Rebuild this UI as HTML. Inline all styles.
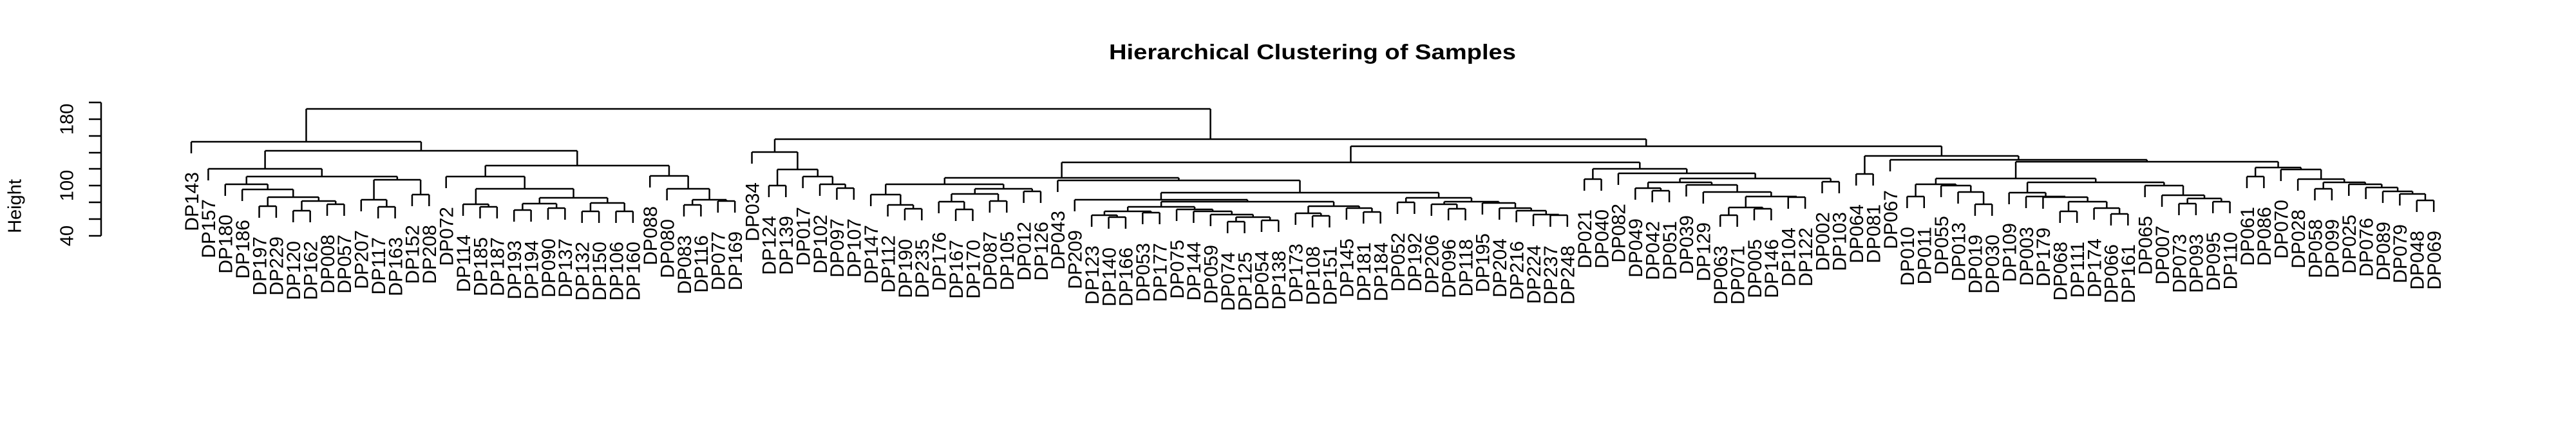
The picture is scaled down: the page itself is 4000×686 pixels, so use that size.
<!DOCTYPE html>
<html><head><meta charset="utf-8">
<style>
html,body{margin:0;padding:0;background:#fff;}
svg{display:block;}
text{font-family:"Liberation Sans",Arial,sans-serif;fill:#000;}
</style></head>
<body>
<svg id="s" width="4000" height="686" viewBox="0 0 4000 686" xmlns="http://www.w3.org/2000/svg">
<rect width="4000" height="686" fill="#fff"/>
<text x="2038" y="92" text-anchor="middle" font-size="33" font-weight="bold" textLength="632" lengthAdjust="spacingAndGlyphs">Hierarchical Clustering of Samples</text>
<g stroke="#000" stroke-width="2.5" fill="none">
<line x1="157" y1="159" x2="157" y2="366"/>
<line x1="138" y1="366" x2="157" y2="366"/>
<line x1="138" y1="340" x2="157" y2="340"/>
<line x1="138" y1="314" x2="157" y2="314"/>
<line x1="138" y1="288" x2="157" y2="288"/>
<line x1="138" y1="262" x2="157" y2="262"/>
<line x1="138" y1="237" x2="157" y2="237"/>
<line x1="138" y1="211" x2="157" y2="211"/>
<line x1="138" y1="185" x2="157" y2="185"/>
<line x1="138" y1="159" x2="157" y2="159"/>
</g>
<g font-size="29" text-anchor="middle">
<text transform="translate(103,366) rotate(-90)" dy="0.36em">40</text>
<text transform="translate(103,288) rotate(-90)" dy="0.36em">100</text>
<text transform="translate(103,185) rotate(-90)" dy="0.36em">180</text>
<text transform="translate(22,320) rotate(-90)" dy="0.36em">Height</text>
</g>
<g id="tree" stroke="#000" stroke-width="2.5" fill="none"></g>
<g id="labels" font-size="30" text-anchor="end">
<text>DP143</text><text>DP157</text><text>DP180</text><text>DP186</text><text>DP197</text><text>DP229</text><text>DP120</text><text>DP162</text><text>DP008</text><text>DP057</text><text>DP207</text><text>DP117</text><text>DP163</text><text>DP152</text><text>DP208</text><text>DP072</text><text>DP114</text><text>DP185</text><text>DP187</text><text>DP193</text><text>DP194</text><text>DP090</text><text>DP137</text><text>DP132</text><text>DP150</text><text>DP106</text><text>DP160</text><text>DP088</text><text>DP080</text><text>DP083</text><text>DP116</text><text>DP077</text><text>DP169</text><text>DP034</text><text>DP124</text><text>DP139</text><text>DP017</text><text>DP102</text><text>DP097</text><text>DP107</text><text>DP147</text><text>DP112</text><text>DP190</text><text>DP235</text><text>DP176</text><text>DP167</text><text>DP170</text><text>DP087</text><text>DP105</text><text>DP012</text><text>DP126</text><text>DP043</text><text>DP209</text><text>DP123</text><text>DP140</text><text>DP166</text><text>DP053</text><text>DP177</text><text>DP075</text><text>DP144</text><text>DP059</text><text>DP074</text><text>DP125</text><text>DP054</text><text>DP138</text><text>DP173</text><text>DP108</text><text>DP151</text><text>DP145</text><text>DP181</text><text>DP184</text><text>DP052</text><text>DP192</text><text>DP206</text><text>DP096</text><text>DP118</text><text>DP195</text><text>DP204</text><text>DP216</text><text>DP224</text><text>DP237</text><text>DP248</text><text>DP021</text><text>DP040</text><text>DP082</text><text>DP049</text><text>DP042</text><text>DP051</text><text>DP039</text><text>DP129</text><text>DP063</text><text>DP071</text><text>DP005</text><text>DP146</text><text>DP104</text><text>DP122</text><text>DP002</text><text>DP103</text><text>DP064</text><text>DP081</text><text>DP067</text><text>DP010</text><text>DP011</text><text>DP055</text><text>DP013</text><text>DP019</text><text>DP030</text><text>DP109</text><text>DP003</text><text>DP179</text><text>DP068</text><text>DP111</text><text>DP174</text><text>DP066</text><text>DP161</text><text>DP065</text><text>DP007</text><text>DP073</text><text>DP093</text><text>DP095</text><text>DP110</text><text>DP061</text><text>DP086</text><text>DP070</text><text>DP028</text><text>DP058</text><text>DP099</text><text>DP025</text><text>DP076</text><text>DP089</text><text>DP079</text><text>DP048</text><text>DP069</text>
</g>
</svg>
<script>
(function(){
var L=1;
var T=[169,
 [220,L,
  [234,
   [262,L,
    [274,
     [286,L,[294,L,[306,[320,L,L],[312,[327,L,L],[317,L,L]]]]],
     [279,[310,L,[321,L,L]],[302,L,L]]
    ]
   ],
   [257,
    [274,L,[293,[317,L,[321,L,L]],[307,[316,[326,L,L],[323,L,L]],[315,[328,L,L],[328,L,L]]]]],
    [273,L,[293,L,[310,[318,L,L],[312,L,L]]]]
   ]
  ]
 ],
 [216,
  [236,L,[263,[288,L,L],[274,L,[286,L,[292,L,L]]]]],
  [227,
   [252,
    [276,
     [286,[302,L,[318,L,[324,L,L]]],[293,[301,[313,L,[325,L,L]],[312,L,L]],[297,L,L]]],
     [280,L,[299,
        [310,L,[313,
            [321,[328,[334,L,[337,L,L]],[330,L,L]],[325,L,[328,L,[333,L,[337,[344,L,L],[342,L,L]]]]]],
            [320,[331,L,[335,L,L]],[323,L,[329,L,L]]]
        ]],
        [307,[314,L,L],[313,[317,L,[324,L,L]],[315,L,[323,L,[327,L,[333,L,[334,L,L]]]]]]]
     ]]
    ],
    [262,[278,L,L],[269,L,[277,[283,[292,L,[296,L,L]],[287,L,[298,L,[305,[322,[334,L,L],[324,L,L]],[306,L,L]]]]],[282,L,L]]]]
   ],
   [242,[270,L,L],[248,L,[251,
      [277,[286,[305,L,L],[288,L,[298,L,[317,L,L]]]],[283,[299,L,[305,L,[306,L,[313,[328,L,L],[323,L,[332,L,L]]]]]],[288,L,[303,L,[308,[316,L,L],[313,L,L]]]]]],
      [260,[274,L,L],[263,L,[278,L,[283,[293,L,L],[286,L,[291,L,[297,L,[301,L,[311,L,L]]]]]]]]]
   ]]]
  ]
 ]
];
var NS="http://www.w3.org/2000/svg";
var g=document.getElementById("tree");
var labels=document.getElementById("labels").getElementsByTagName("text");
var idx=0, X0=297, DX=26.38, HANG=18, GAP=29;
function line(x1,y1,x2,y2){var l=document.createElementNS(NS,"line");l.setAttribute("x1",x1);l.setAttribute("y1",y1);l.setAttribute("x2",x2);l.setAttribute("y2",y2);g.appendChild(l);}
function walk(n,py){
  if(n===L){
    var x=X0+DX*idx;
    line(x,py,x,py+HANG);
    var t=labels[idx];
    if(t){t.setAttribute("transform","translate("+x.toFixed(1)+","+(py+HANG+GAP)+") rotate(-90)");t.setAttribute("dy","0.36em");}
    idx++;
    return x;
  }
  var y=n[0];
  var a=walk(n[1],y), b=walk(n[2],y);
  line(a,y,b,y);
  var m=(a+b)/2;
  if(py!==null) line(m,py,m,y);
  return m;
}
walk(T,null);
})();
</script>
</body></html>
